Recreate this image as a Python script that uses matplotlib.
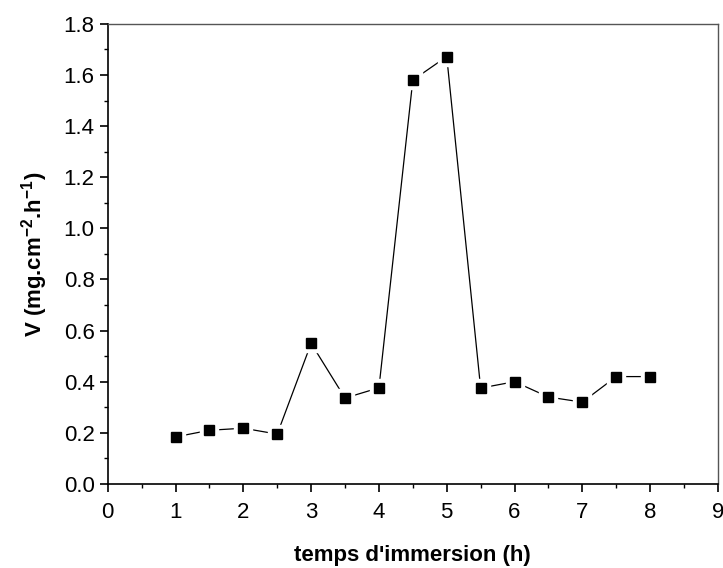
import matplotlib
matplotlib.use('Agg')
import matplotlib.pyplot as plt
from matplotlib.ticker import MultipleLocator

plt.rcParams['font.family'] = ['Liberation Sans', 'DejaVu Sans']
plt.rcParams['mathtext.fontset'] = 'custom'
plt.rcParams['mathtext.bf'] = 'Liberation Sans:bold'
plt.rcParams['mathtext.rm'] = 'Liberation Sans'

temps = [1, 1.5, 2, 2.5, 3, 3.5, 4, 4.5, 5, 5.5, 6, 6.5, 7, 7.5, 8]
vitesse = [0.184, 0.21, 0.218, 0.195, 0.55, 0.336, 0.376, 1.58, 1.672,
           0.375, 0.40, 0.34, 0.32, 0.42, 0.42]

fig = plt.figure(figsize=(7.23, 5.68), dpi=100)
ax = fig.add_axes([0.149, 0.148, 0.844, 0.81])

ax.plot(temps, vitesse, color='black', lw=0.9, zorder=2)
# white halo so the line stops short of the markers
ax.plot(temps, vitesse, ls='none', marker='s', ms=13, color='white', zorder=3)
ax.plot(temps, vitesse, ls='none', marker='s', ms=7.5, color='black', zorder=4)

ax.set_xlim(0, 9)
ax.set_ylim(0, 1.8)
ax.xaxis.set_major_locator(MultipleLocator(1))
ax.xaxis.set_minor_locator(MultipleLocator(0.5))
ax.yaxis.set_major_locator(MultipleLocator(0.2))
ax.yaxis.set_minor_locator(MultipleLocator(0.1))
ax.yaxis.set_major_formatter(plt.FormatStrFormatter('%.1f'))
ax.tick_params(which='both', direction='out', top=False, right=False, labelsize=16)
ax.tick_params(which='major', length=6, width=1.2)
ax.tick_params(which='minor', length=3, width=1)
ax.tick_params(axis='x', pad=7)
for s in ax.spines.values():
    s.set_linewidth(1.2)
for s in ['top', 'right']:
    ax.spines[s].set_color('#555555')
    ax.spines[s].set_linewidth(1)

ax.set_xlabel("temps d'immersion (h)", fontsize=16, fontweight='bold', labelpad=16)
ax.set_ylabel(r"V (mg.cm$^{\mathbf{-2}}$.h$^{\mathbf{-1}}$)", fontsize=16, fontweight='bold', labelpad=10)

fig.savefig('out.png', dpi=100)
